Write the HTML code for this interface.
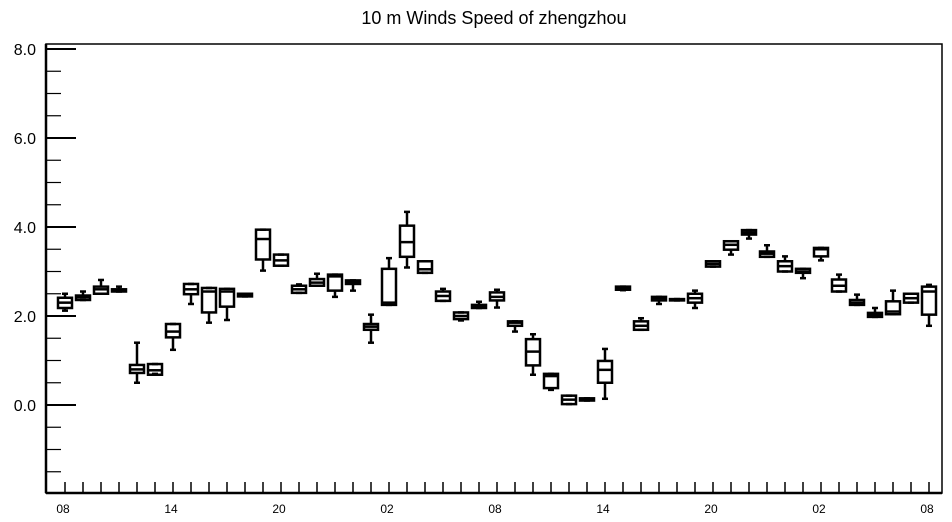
<!DOCTYPE html>
<html><head><meta charset="utf-8"><style>
body{margin:0;background:#fff;}
svg{display:block;font-family:"Liberation Sans",Arial,sans-serif;}
</style></head><body>
<svg id="chart" width="952" height="522">
<text x="494" y="24" font-size="18" text-anchor="middle">10 m Winds Speed of zhengzhou</text>
<g id="marks"></g>
<g id="axes"></g>
</svg>
<script>
const mins = [2.12,2.36,2.5,2.55,0.5,0.7,1.24,2.27,1.85,1.91,2.44,3.02,3.13,2.52,2.68,2.43,2.57,1.40,2.25,3.09,2.97,2.34,1.9,2.18,2.19,1.65,0.68,0.34,0.02,0.10,0.14,2.58,1.69,2.27,2.35,2.18,3.11,3.38,3.74,3.33,3.0,2.85,3.25,2.55,2.25,1.98,2.04,2.3,1.78];
const q1s = [2.18,2.36,2.5,2.55,0.72,0.68,1.52,2.49,2.08,2.21,2.44,3.27,3.13,2.52,2.68,2.57,2.72,1.69,2.25,3.33,2.97,2.34,1.93,2.18,2.35,1.78,0.89,0.38,0.02,0.10,0.5,2.59,1.69,2.35,2.35,2.3,3.11,3.49,3.83,3.33,3.0,2.97,3.34,2.55,2.25,1.98,2.04,2.3,2.03];
const meds = [2.3,2.42,2.6,2.58,0.8,0.78,1.65,2.6,2.55,2.55,2.47,3.73,3.25,2.6,2.75,2.89,2.76,1.76,2.3,3.66,3.05,2.45,2.0,2.21,2.43,1.85,1.2,0.65,0.12,0.12,0.79,2.62,1.78,2.4,2.37,2.4,3.17,3.6,3.88,3.4,3.12,3.0,3.5,2.68,2.3,2.02,2.1,2.4,2.55];
const q3s = [2.41,2.46,2.66,2.6,0.9,0.92,1.82,2.72,2.63,2.61,2.5,3.94,3.38,2.68,2.83,2.93,2.8,1.82,3.06,4.03,3.23,2.55,2.08,2.25,2.53,1.88,1.48,0.70,0.21,0.15,0.99,2.66,1.88,2.43,2.38,2.5,3.23,3.68,3.93,3.45,3.23,3.06,3.53,2.82,2.36,2.07,2.33,2.5,2.66];
const maxs = [2.5,2.55,2.81,2.66,1.4,0.92,1.82,2.72,2.63,2.61,2.5,3.94,3.38,2.71,2.95,2.93,2.8,2.03,3.3,4.34,3.23,2.61,2.08,2.32,2.59,1.88,1.59,0.70,0.21,0.15,1.26,2.66,1.95,2.43,2.38,2.57,3.23,3.68,3.93,3.59,3.34,3.06,3.53,2.93,2.48,2.18,2.57,2.5,2.7];
const xLabels = ["08","14","20","02","08","14","20","02","08"];
const yLabels = ["0.0","2.0","4.0","6.0","8.0"];
const yTickVals = [0,2,4,6,8];

const NS="http://www.w3.org/2000/svg";
const L=46,R=942,T=44,B=493;
function xs(i){return 65+18*i;}
function ys(v){return 405-44.5*v;}
function mk(tag,attrs,parent){const e=document.createElementNS(NS,tag);for(const k in attrs)e.setAttribute(k,attrs[k]);parent.appendChild(e);return e;}
const marks=document.getElementById('marks'),axes=document.getElementById('axes');
const st={stroke:"#000","stroke-width":2.5,fill:"none"};
for(let i=0;i<meds.length;i++){
  const g=mk('g',{},marks);
  
  
  const x=xs(i),w=7;
  mk('line',Object.assign({x1:x,x2:x,y1:ys(maxs[i]),y2:ys(q3s[i])},st),g);
  mk('line',Object.assign({x1:x,x2:x,y1:ys(q1s[i]),y2:ys(mins[i])},st),g);
  mk('line',Object.assign({x1:x-3,x2:x+3,y1:ys(maxs[i]),y2:ys(maxs[i])},st),g);
  mk('line',Object.assign({x1:x-3,x2:x+3,y1:ys(mins[i]),y2:ys(mins[i])},st),g);
  mk('rect',Object.assign({x:x-w,y:ys(q3s[i]),width:2*w,height:Math.max(1,ys(q1s[i])-ys(q3s[i]))},st),g);
  mk('line',Object.assign({x1:x-w,x2:x+w,y1:ys(meds[i]),y2:ys(meds[i])},st),g);
}
// frame
const fr=mk('rect',{x:L,y:T,width:R-L,height:B-T,fill:"none",stroke:"#000","stroke-width":1.5},axes);


mk('line',{x1:L,x2:L,y1:T,y2:B,stroke:"#000","stroke-width":2.5},axes);
mk('line',{x1:L,x2:R,y1:B,y2:B,stroke:"#000","stroke-width":2.5},axes);
// y ticks
for(let v=-1.5;v<=8.01;v+=0.5){
  const major=Math.abs(v/2-Math.round(v/2))<1e-6;
  mk('line',{x1:L,x2:L+(major?30:15),y1:ys(v),y2:ys(v),stroke:"#000","stroke-width":major?2:1.2},axes);
}
yTickVals.forEach((v,k)=>{
  const t=mk('text',{x:36,y:ys(v)+6,"font-size":16,"text-anchor":"end"},axes);
  t.textContent=yLabels[k];
  
  
});
// x ticks
for(let i=0;i<meds.length;i++){
  mk('line',{x1:xs(i),x2:xs(i),y1:B,y2:B-11,stroke:"#000","stroke-width":1.5},axes);
}
xLabels.forEach((s,k)=>{
  const t=mk('text',{x:xs(k*6)-2,y:513,"font-size":12,"text-anchor":"middle"},axes);
  t.textContent=s;
  
  
});
</script>
</body></html>
